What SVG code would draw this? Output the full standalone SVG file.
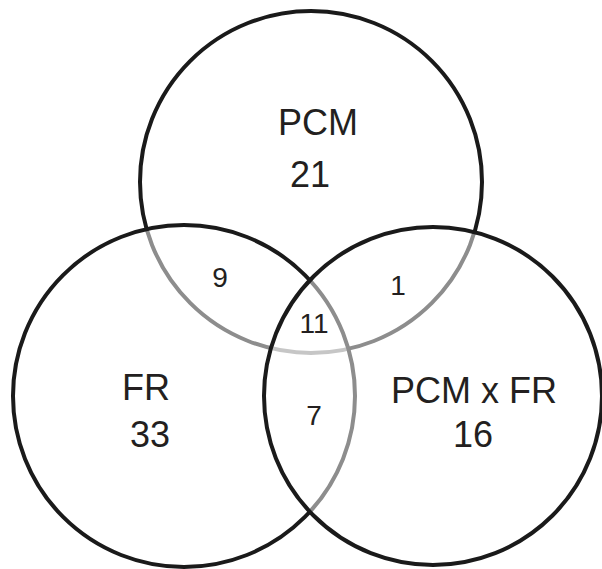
<svg xmlns="http://www.w3.org/2000/svg" width="602" height="569" viewBox="0 0 602 569">
  <style>
    .set { fill: #ffffff; fill-opacity: 0.5; stroke: #1a1a1a; stroke-width: 4; }
    .big { font-family: "Liberation Sans", Arial, sans-serif; font-size: 36px; fill: #231f20; text-anchor: middle; }
    .small { font-family: "Liberation Sans", Arial, sans-serif; font-size: 28px; fill: #231f20; text-anchor: middle; }
  </style>
  <rect width="602" height="569" fill="#ffffff"/>
  <g id="set-pcm">
    <circle class="set" cx="311" cy="182" r="171"/>
    <text class="big" x="318" y="135">PCM</text>
    <text class="big" x="310" y="187">21</text>
  </g>
  <g id="set-fr">
    <circle class="set" cx="184" cy="396" r="171"/>
    <text class="big" x="146" y="400">FR</text>
    <text class="big" x="150" y="447">33</text>
  </g>
  <g id="set-pcmxfr">
    <circle class="set" cx="433" cy="396" r="169"/>
    <text class="big" x="474" y="403">PCM x FR</text>
    <text class="big" x="473" y="447">16</text>
  </g>
  <g id="intersections">
    <text class="small" x="220" y="287">9</text>
    <text class="small" x="398" y="295">1</text>
    <text class="small" x="314" y="333">11</text>
    <text class="small" x="314" y="425">7</text>
  </g>
  <g id="connectors"/>
</svg>
